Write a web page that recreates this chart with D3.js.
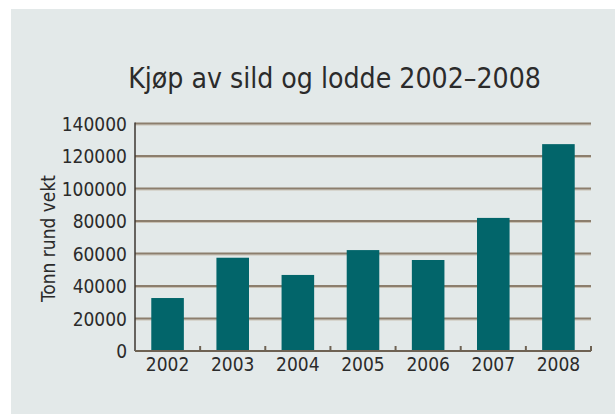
<!DOCTYPE html>
<html>
<head>
<meta charset="utf-8">
<script src="https://cdn.jsdelivr.net/npm/d3@7"></script>
<style>
  body { margin: 0; background: #fff; }
  text { font-family: "DejaVu Sans Condensed", "DejaVu Sans", sans-serif; fill: #2b2b2b; }
</style>
</head>
<body>
<svg id="chart" width="615" height="414"></svg>
<script>
const WIDTH = 615;
const HEIGHT = 414;

const years = ['2002', '2003', '2004', '2005', '2006', '2007', '2008'];
const tonnes = [32600, 57400, 46800, 62100, 56000, 81900, 127300];
const yTicks = [0, 20000, 40000, 60000, 80000, 100000, 120000, 140000];

const TITLE = 'Kjøp av sild og lodde 2002–2008';
const Y_LABEL = 'Tonn rund vekt';

const margin = {top: 123.5, right: 24, bottom: 63, left: 135};
const width = WIDTH - margin.left - margin.right;
const height = HEIGHT - margin.top - margin.bottom;

const svg = d3.select('#chart');

// panel
svg.append('rect')
  .attr('x', 11)
  .attr('y', 9)
  .attr('width', WIDTH - 11)
  .attr('height', HEIGHT - 9)
  .attr('fill', '#e3e9e9');

// fit a text to the width it has in the picture
function fitText(sel, size, target) {
  sel.style('font-size', `${size}px`);
  const w = sel.node().getComputedTextLength();
  sel.style('font-size', `${size * target / w}px`);
}

const title = svg.append('text')
  .attr('x', 334.5)
  .attr('y', 88)
  .attr('text-anchor', 'middle')
  .style('font-weight', 500)
  .text(TITLE);
fitText(title, 30, 413);

const g = svg.append('g')
  .attr('transform', `translate(${margin.left}, ${margin.top})`);

const x = d3.scaleBand().domain(years).range([0, width]).paddingInner(0.5).paddingOuter(0.25);
const y = d3.scaleLinear().domain([0, 140000]).range([height, 0]);

// gridlines
const grid = g.append('g');
grid.selectAll('.shade')
  .data(yTicks.slice(1))
  .join('line')
  .attr('x1', 0)
  .attr('x2', width)
  .attr('y1', (d) => y(d) + 1.5)
  .attr('y2', (d) => y(d) + 1.5)
  .attr('stroke', '#c9c1b4')
  .attr('stroke-width', 1);
grid.selectAll('.grid')
  .data(yTicks.slice(1))
  .join('line')
  .attr('x1', 0)
  .attr('x2', width)
  .attr('y1', (d) => y(d))
  .attr('y2', (d) => y(d))
  .attr('stroke', '#8c7e6d')
  .attr('stroke-width', 2);

// y tick labels
g.selectAll('.ylab')
  .data(yTicks)
  .join('text')
  .attr('x', -8)
  .attr('y', (d) => y(d))
  .attr('dy', '0.38em')
  .attr('text-anchor', 'end')
  .style('font-size', '19px')
  .text((d) => d);

// bars
g.selectAll('.bar')
  .data(tonnes)
  .join('rect')
  .attr('class', 'bar')
  .attr('x', (d, i) => x(years[i]))
  .attr('width', x.bandwidth())
  .attr('y', (d) => y(d))
  .attr('height', (d) => height - y(d))
  .attr('fill', '#02656a');

// y axis line
g.append('line')
  .attr('x1', 0)
  .attr('x2', 0)
  .attr('y1', y(140000) - 1)
  .attr('y2', height)
  .attr('stroke', '#3d3630')
  .attr('stroke-width', 1.5);

// x axis with upward ticks at band edges
const step = x.step();
const xAxis = g.append('g').attr('transform', `translate(0, ${height})`);
xAxis.append('line')
  .attr('x1', 0)
  .attr('x2', width)
  .attr('stroke', '#6e6253')
  .attr('stroke-width', 2);
xAxis.selectAll('.tick')
  .data(years)
  .join('line')
  .attr('x1', (d, i) => (i + 1) * step)
  .attr('x2', (d, i) => (i + 1) * step)
  .attr('y1', 0)
  .attr('y2', -5)
  .attr('stroke', '#6e6253')
  .attr('stroke-width', 2);
xAxis.selectAll('.xlab')
  .data(years)
  .join('text')
  .attr('x', (d) => x(d) + x.bandwidth() / 2)
  .attr('y', 20)
  .attr('text-anchor', 'middle')
  .style('font-size', '19px')
  .text((d) => d);

// y axis title
const yTitle = svg.append('text')
  .attr('transform', 'translate(55, 238.5) rotate(-90)')
  .attr('text-anchor', 'middle')
  .text(Y_LABEL);
fitText(yTitle, 16, 127);
</script>
</body>
</html>
